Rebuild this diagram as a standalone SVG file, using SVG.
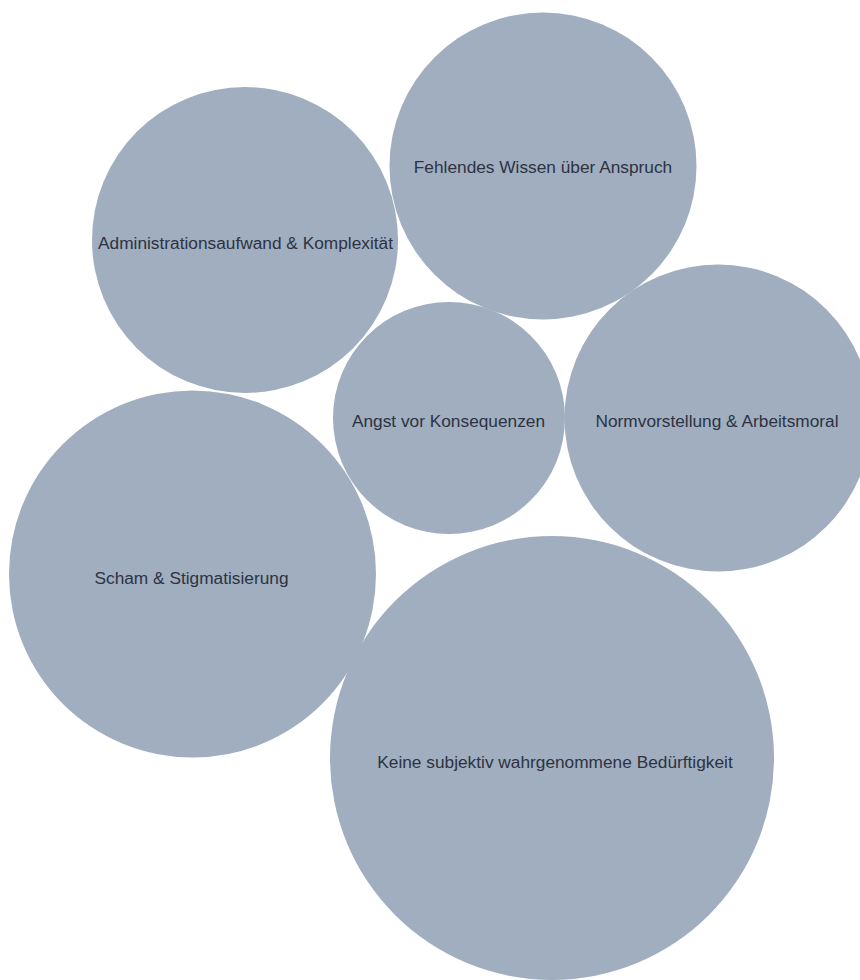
<svg xmlns="http://www.w3.org/2000/svg" width="860" height="980" viewBox="0 0 860 980">
<style>
.b{fill:#a0aec0;}
.t{font-family:"Liberation Sans",Arial,sans-serif;font-size:17.3px;fill:#2d3340;text-anchor:middle;dominant-baseline:central;}
</style>
<rect width="860" height="980" fill="#ffffff"/>
<g id="connectors"></g>
<g id="fehlendes-wissen"><circle class="b" cx="543" cy="166" r="153.5"/><text class="t" x="543" y="167">Fehlendes Wissen über Anspruch</text></g>
<g id="administrationsaufwand"><circle class="b" cx="245" cy="240" r="153"/><text class="t" x="245.5" y="243">Administrationsaufwand &amp; Komplexität</text></g>
<g id="angst"><circle class="b" cx="449" cy="418" r="116"/><text class="t" x="448.5" y="421">Angst vor Konsequenzen</text></g>
<g id="normvorstellung"><circle class="b" cx="718" cy="418" r="153.5"/><text class="t" x="717" y="421">Normvorstellung &amp; Arbeitsmoral</text></g>
<g id="scham"><circle class="b" cx="192.5" cy="574" r="183.5"/><text class="t" x="191.5" y="578">Scham &amp; Stigmatisierung</text></g>
<g id="keine-beduerftigkeit"><circle class="b" cx="552" cy="758" r="222"/><text class="t" x="555" y="762">Keine subjektiv wahrgenommene Bedürftigkeit</text></g>
</svg>
